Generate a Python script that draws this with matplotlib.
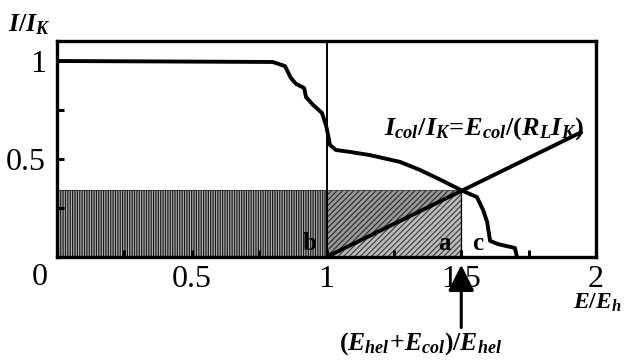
import matplotlib.pyplot as plt
import matplotlib.patches as mpatches

plt.rcParams['font.family'] = 'Liberation Serif'
plt.rcParams['mathtext.fontset'] = 'custom'
plt.rcParams['mathtext.it'] = 'Liberation Serif:bold:italic'
plt.rcParams['mathtext.rm'] = 'Liberation Serif:bold'
plt.rcParams['mathtext.bf'] = 'Liberation Serif:bold'
plt.rcParams['hatch.linewidth'] = 0.9

# measured current curve I/IK vs E/Eh
curve_x = [0.0, 0.80, 0.846, 0.868, 0.887, 0.917, 0.924, 0.950, 0.983, 0.998, 1.006,
           1.013, 1.035, 1.087, 1.161, 1.273, 1.347, 1.432, 1.469, 1.514, 1.558,
           1.581, 1.596, 1.607, 1.636, 1.699, 1.707]
curve_y = [1.0, 0.995, 0.974, 0.913, 0.883, 0.862, 0.816, 0.776, 0.735, 0.673, 0.622,
           0.571, 0.546, 0.536, 0.520, 0.485, 0.444, 0.388, 0.362, 0.332, 0.306,
           0.240, 0.179, 0.082, 0.066, 0.046, 0.0]

# load line Icol/IK = Ecol/(RL IK)
line_x = [1.0, 1.95]
line_y = [0.0, 0.64]

# shaded areas
rect_h = 0.342
e_split = 1.0
e_op = 1.5

xticks = [0.25, 0.5, 0.75, 1.0, 1.25, 1.5, 1.75, 2.0]
xlabels = ['', '0.5', '', '1', '', '1.5', '', '2']
yticks = [0.25, 0.5, 0.75, 1.0]
ylabels = ['', '0.5', '', '1']

fig = plt.figure(figsize=(6.24, 3.61), dpi=100)
ax = fig.add_axes([57/624, 1-257/361, (596-57)/624, (257-41)/361])
ax.set_xlim(0, 2)
ax.set_ylim(0, 1.102)

# hatched regions
ax.add_patch(mpatches.Rectangle((0, 0), e_split, rect_h, facecolor='#b5b5b5',
                                edgecolor='#1a1a1a', hatch='|||||||', lw=0.6, zorder=1))
ax.add_patch(mpatches.Rectangle((e_split, 0), e_op - e_split, rect_h, facecolor='#9a9a9a',
                                edgecolor='#333333', hatch='//////', lw=0.6, zorder=1))
ax.add_patch(mpatches.Polygon([(e_split, 0), (e_op, rect_h), (e_op, 0)], closed=True,
                              facecolor='#bdbdbd', edgecolor='#444444', hatch='//////',
                              lw=0, zorder=1.1))
ax.plot([e_op, e_op], [0, rect_h], color='black', lw=0.9, zorder=2)

ax.axvline(1.0, color='black', lw=1.4, zorder=3)
ax.plot(curve_x, curve_y, color='black', lw=2.8, solid_joinstyle='round', zorder=4)
ax.plot(line_x, line_y, color='black', lw=2.8, solid_capstyle='butt', zorder=4)

for s in ax.spines.values():
    s.set_linewidth(2.4)

ax.set_xticks(xticks)
ax.set_xticklabels(xlabels)
ax.set_yticks(yticks)
ax.set_yticklabels(ylabels)
ax.tick_params(direction='in', length=5, width=2.2, labelsize=23, pad=6)
ax.tick_params(axis='y', pad=8)
ax.text(-0.063, -0.03, '0', fontsize=23, ha='center', va='top', clip_on=False)

ax.text(0.939, 0.07, 'b', fontsize=18, fontweight='bold', ha='center', va='center')
ax.text(1.436, 0.07, 'a', fontsize=18, fontweight='bold', ha='center', va='center')
ax.text(1.562, 0.07, 'c', fontsize=18, fontweight='bold', ha='center', va='center')

ax.text(1.212, 0.655, r'$I_{col}/I_K\!=\!E_{col}/(R_L I_K)$', fontsize=19,
        ha='left', va='center')

ax.annotate('', xy=(e_op, -0.04), xytext=(e_op, -0.36), annotation_clip=False,
            arrowprops=dict(arrowstyle='-|>', mutation_scale=40, lw=2.2, color='black',
                            shrinkA=0, shrinkB=0))
fig.text(421/624, 1-344/361, r'$(E_{hel}\!+\!E_{col})/E_{hel}$', fontsize=18.5,
         ha='center', va='center')

fig.text(8/624, 1-25/361, r'$I/I_K$', fontsize=18.5, ha='left', va='center')
fig.text(573/624, 1-303/361, r'$E/E_h$', fontsize=17, ha='left', va='center')

fig.savefig('out.png', dpi=100)
